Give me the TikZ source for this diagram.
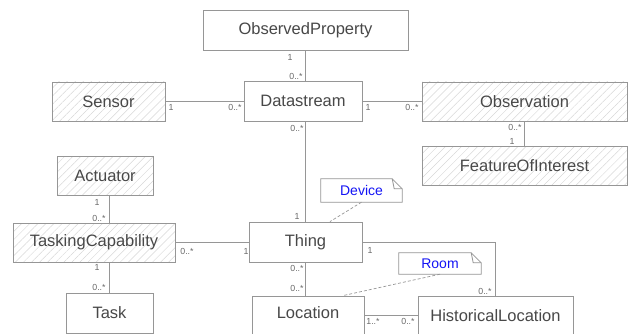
\documentclass[tikz,border=0pt]{standalone}
\usepackage{fontspec}
\setmainfont{Liberation Sans}
\usetikzlibrary{patterns.meta}
\definecolor{umlline}{RGB}{150,150,150}
\definecolor{umltext}{RGB}{72,72,72}
\definecolor{hatchgray}{RGB}{215,215,215}
\definecolor{multgray}{RGB}{105,105,105}
\definecolor{noteblue}{RGB}{20,20,245}
% folded corner of a note
\newcommand{\dogear}[1]{%
  \draw[conn, fill=white] (#1.north west) -- ([xshift=-10pt]#1.north east) -- ([yshift=-10pt]#1.north east)
    -- (#1.south east) -- (#1.south west) -- cycle;
  \draw[conn] ([xshift=-10pt]#1.north east) -- ([xshift=-8pt,yshift=-10pt]#1.north east) -- ([yshift=-10pt]#1.north east);}

\begin{document}
\begin{tikzpicture}[x=1pt, y=-1pt,
  cls/.style={draw=umlline, line width=0.8pt, fill=white, text=umltext, inner sep=0pt,
              minimum height=40pt, font=\fontsize{16.5}{18}\selectfont},
  hatched/.style={cls, pattern={Lines[angle=45,distance=5.7pt,line width=0.5pt]}, pattern color=hatchgray},
  conn/.style={draw=umlline, line width=0.8pt},
  notelink/.style={draw=umlline, line width=0.7pt, dash pattern=on 3pt off 2pt},
  note/.style={text=noteblue, inner sep=0pt, font=\fontsize{14}{16}\selectfont},
  mult/.style={text=multgray, inner sep=0pt, font=\fontsize{8.8}{10}\selectfont}]
  \useasboundingbox (0,0) rectangle (628,334);

  % classes
  \node[cls, minimum width=205pt] (obsprop) at (305.5,30) {ObservedProperty};
  \node[cls, minimum width=118pt] (datastream) at (303,101) {Datastream};
  \node[hatched, minimum width=113pt, minimum height=39pt] (sensor) at (108.5,101.5) {Sensor};
  \node[hatched, minimum width=205pt, minimum height=39pt] (observation) at (524.5,101.5) {Observation};
  \node[hatched, minimum width=205pt, minimum height=39pt] (foi) at (524.5,165.5) {FeatureOfInterest};
  \node[hatched, minimum width=96pt, minimum height=39pt] (actuator) at (105,175.5) {Actuator};
  \node[hatched, minimum width=162pt, minimum height=39pt] (tasking) at (94,242.5) {TaskingCapability};
  \node[cls, minimum width=87pt] (task) at (109.5,313) {Task};
  \node[cls, minimum width=113pt] (thing) at (305.5,242) {Thing};
  \node[cls, minimum width=112pt, minimum height=39pt, text depth=6pt] (location) at (308,315.5) {Location};
  \node[cls, minimum width=155pt, minimum height=39pt] (hist) at (495.5,315.5) {HistoricalLocation};

  % associations
  \draw[conn] (obsprop.south) -- (obsprop.south |- datastream.north);
  \draw[conn] (sensor.east) -- (sensor.east -| datastream.west);
  \draw[conn] (datastream.east) -- (datastream.east -| observation.west);
  \draw[conn] (observation.south) -- (foi.north);
  \draw[conn] (thing.north) -- (thing.north |- datastream.south);
  \draw[conn] (task.north |- actuator.south) -- (task.north |- tasking.north);
  \draw[conn] (task.north) -- (task.north |- tasking.south);
  \draw[conn] (tasking.east) -- (tasking.east -| thing.west);
  \draw[conn] (thing.south) -- (thing.south |- location.north);
  \draw[conn] (thing.east) -| (hist.north);
  \draw[conn] (location.east) -- (location.east -| hist.west);

  % multiplicities
  \node[mult] (m1) at (290,57) {1};
  \node[mult] (m2) at (296,76) {0..*};
  \node[mult] (m3) at (171,107) {1};
  \node[mult] (m4) at (235,107) {0..*};
  \node[mult] (m5) at (368,107) {1};
  \node[mult] (m6) at (412,107) {0..*};
  \node[mult] (m7) at (515,127) {0..*};
  \node[mult] (m8) at (512,141) {1};
  \node[mult] (m9) at (297,128) {0..*};
  \node[mult] (m10) at (297,216) {1};
  \node[mult] (m11) at (97,202) {1};
  \node[mult] (m12) at (99,218) {0..*};
  \node[mult] (m13) at (97,267) {1};
  \node[mult] (m14) at (99,287) {0..*};
  \node[mult] (m15) at (187,251) {0..*};
  \node[mult] (m16) at (246,251) {1};
  \node[mult] (m17) at (297,268) {0..*};
  \node[mult] (m18) at (297,288) {0..*};
  \node[mult] (m19) at (370,250) {1};
  \node[mult] (m20) at (485,291) {0..*};
  \node[mult] (m21) at (373,321) {1..*};
  \node[mult] (m22) at (408,321) {0..*};

  % notes
  \node[note, minimum width=81pt, minimum height=23pt] (device) at (361.5,190.5) {};
  \dogear{device}
  \node[note] (devicetext) at (device) {Device};
  \draw[notelink] (device.south) -- ([xshift=24.5pt]thing.north);
  \node[note, minimum width=82pt, minimum height=21pt] (room) at (440,263.5) {};
  \dogear{room}
  \node[note] (roomtext) at (room) {Room};
  \draw[notelink] (room.south) -- ([xshift=35pt]location.north);
\end{tikzpicture}
\end{document}
